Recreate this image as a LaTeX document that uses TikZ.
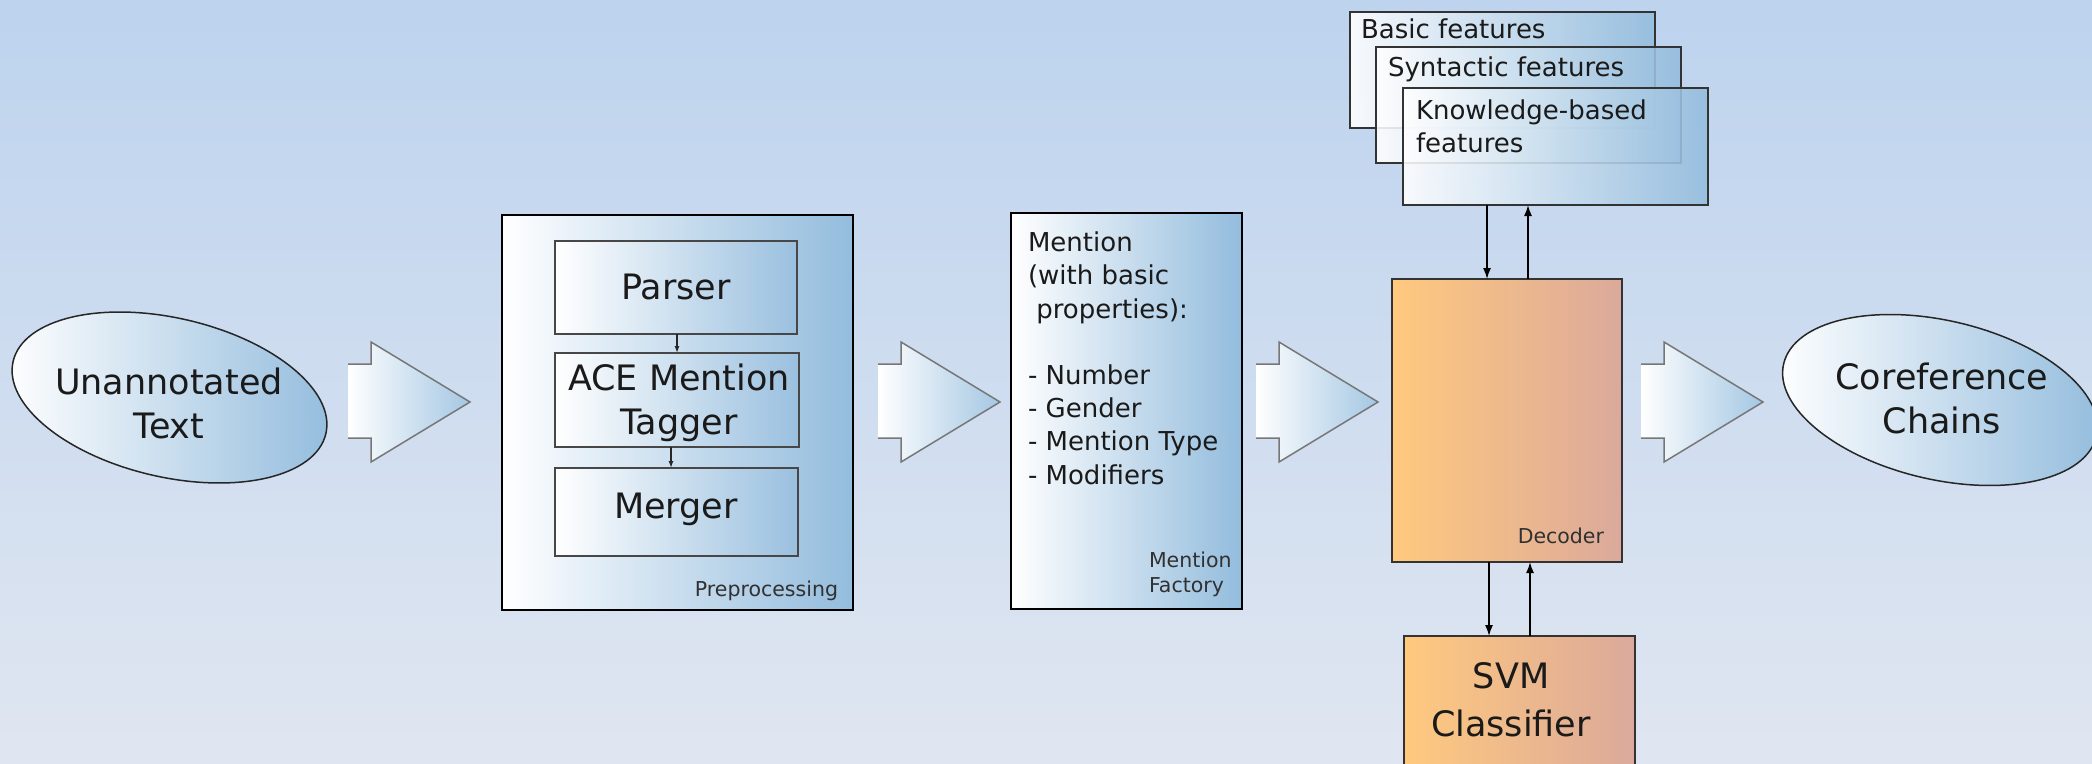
\documentclass[tikz,border=0pt]{standalone}
\usepackage{fontspec}
\setmainfont{DejaVu Sans}
\usetikzlibrary{shapes.geometric,arrows.meta}
\definecolor{bgtop}{HTML}{BDD3EE}
\definecolor{bgmid}{HTML}{D9E2F0}
\definecolor{bgbot}{HTML}{E0E6F1}
\definecolor{boxblue}{HTML}{93BCDD}
\definecolor{innerblue}{HTML}{9AC0DF}
\definecolor{arrowblue}{HTML}{A4C7E3}
\definecolor{arrowedge}{HTML}{777777}
\definecolor{orangeL}{HTML}{FFC97E}
\definecolor{orangeR}{HTML}{DBA99B}
\definecolor{txt}{HTML}{1A1A1A}
\definecolor{edge}{HTML}{333333}
\begin{document}
\begin{tikzpicture}[x=1pt,y=-1pt,
  bigtext/.style={font=\fontsize{35}{44}\selectfont, text=txt, inner sep=0, outer sep=0, align=center},
  midtext/.style={font=\fontsize{26}{33.2}\selectfont, text=txt, inner sep=0, outer sep=0, align=left},
  smalltext/.style={font=\fontsize{20.5}{25}\selectfont, text=txt!90, inner sep=0, outer sep=0, align=left},
  bluebox/.style={rectangle, draw=black, line width=2.8, left color=white, right color=boxblue, inner sep=0, outer sep=0, anchor=north west},
  innerbox/.style={rectangle, draw=edge!90, line width=1.6, left color=white, right color=innerblue, inner sep=0, outer sep=0, anchor=north west},
  featbox/.style={rectangle, draw=edge, line width=1.6, left color=white, right color=boxblue, fill opacity=0.88, inner sep=0, outer sep=0, anchor=north west, minimum width=305, minimum height=116},
  orangebox/.style={rectangle, draw=edge, line width=1.8, left color=orangeL, right color=orangeR, inner sep=0, outer sep=0, anchor=north west},
  oval/.style={ellipse, draw=black!85, line width=1.5, left color=white, right color=boxblue, inner sep=0, outer sep=0, minimum width=321, minimum height=159, rotate=-13},
  blockarrow/.style={draw=arrowedge, line width=1.5, left color=white, right color=arrowblue},
  conn/.style={draw=black, line width=1.5, -{Latex[length=11pt,width=8pt]}},
  smallconn/.style={draw=black!85, line width=1.3, -{Latex[length=7pt,width=5pt]}}
]
\clip (0,0) rectangle (2092,763);
\shade[top color=bgtop, middle color=bgmid, bottom color=bgbot] (0,0) rectangle (2092,763);

% input ellipse
\node[oval] (ua) at (169.5,397.5) {};
\node[bigtext, anchor=north] (uat) at (169,368) {Unannotated\\Text};

% block arrows
\foreach \x in {348,878,1256,1641}{
  \path[blockarrow] (\x,364) -- (\x+23,364) -- (\x+23,342) -- (\x+122,402)
     -- (\x+23,462) -- (\x+23,438) -- (\x,438);
}

% preprocessing
\node[bluebox, minimum width=351, minimum height=395] (pre) at (502,215) {};
\node[innerbox, minimum width=242, minimum height=93] (parser) at (555,241) {};
\node[innerbox, minimum width=244, minimum height=94] (ace) at (555,353) {};
\node[innerbox, minimum width=243, minimum height=88] (merger) at (555,468) {};
\node[bigtext, anchor=base] (parsert) at (676,299) {Parser};
\node[bigtext, anchor=north, font=\fontsize{35}{43.5}\selectfont] (acet) at (679,364) {ACE Mention\\Tagger};
\node[bigtext, anchor=base] (mergert) at (676,518) {Merger};
\node[smalltext, anchor=base east] (pret) at (838,596) {Preprocessing};
\coordinate (p1) at (677,0);
\coordinate (p2) at (671,0);
\draw[smallconn] (parser.south -| p1) -- (ace.north -| p1);
\draw[smallconn] (ace.south -| p2) -- (merger.north -| p2);

% mention factory
\node[bluebox, minimum width=231, minimum height=396] (mf) at (1011,213) {};
\node[midtext, anchor=north west] (mft) at (1028,232) {Mention\\(with basic\\\hspace{8.3pt}properties):\\[33.2pt]- Number\\- Gender\\- Mention Type\\- Modifiers};
\node[smalltext, anchor=north west] (mfl) at (1149,552) {Mention\\Factory};

% features
\node[featbox] (bf) at (1350,12) {};
\node[midtext, anchor=base west] (bft) at (1361,38.3) {Basic features};
\node[featbox] (sf) at (1376,47) {};
\node[midtext, anchor=base west] (sft) at (1388,76.7) {Syntactic features};
\node[featbox, minimum height=117] (kb) at (1403,88) {};
\node[midtext, anchor=north west] (kbt) at (1416,99.5) {Knowledge-based\\features};

% decoder
\node[orangebox, minimum width=230, minimum height=283] (dec) at (1392,279) {};
\node[smalltext, anchor=base east] (dect) at (1604,543) {Decoder};

% svm
\node[orangebox, minimum width=231, minimum height=160] (svm) at (1404,636) {};
\node[bigtext, anchor=north, font=\fontsize{35}{48}\selectfont] (svmt) at (1511,663) {SVM\\Classifier};

% connectors
\coordinate (d1) at (1487,0);
\coordinate (d2) at (1528,0);
\draw[conn] (kb.south -| d1) -- (dec.north -| d1);
\draw[conn] (dec.north -| d2) -- (kb.south -| d2);
\coordinate (s1) at (1489,0);
\coordinate (s2) at (1530,0);
\draw[conn] (dec.south -| s1) -- (svm.north -| s1);
\draw[conn] (svm.north -| s2) -- (dec.south -| s2);

% output ellipse
\node[oval] (cc) at (1940,400) {};
\node[bigtext, anchor=north] (cct) at (1942,363) {Coreference\\Chains};
\end{tikzpicture}
\end{document}
